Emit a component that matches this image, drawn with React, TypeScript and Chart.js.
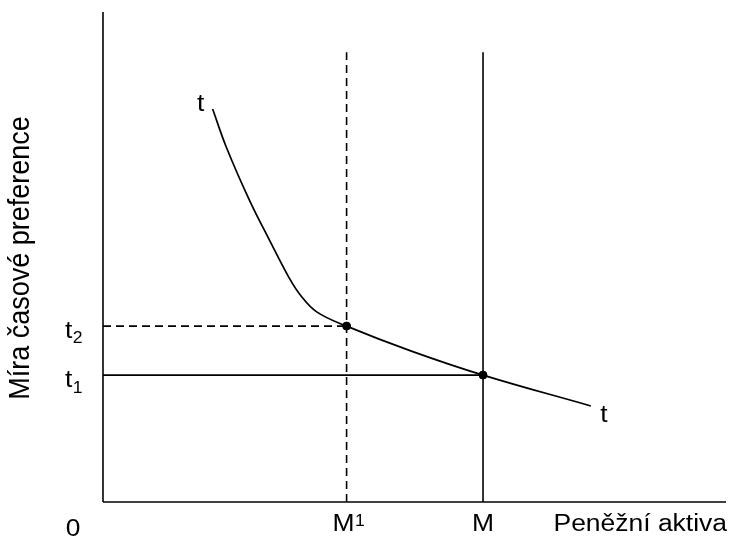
import React, { useEffect, useRef } from "react";
import { Chart, registerables } from "chart.js";

Chart.register(...registerables);

// Curve t–t (money assets vs. rate of time preference)
const curveX = [1.76, 1.98, 2.35, 2.67, 2.99, 3.17, 3.43, 3.91, 4.95, 6.1, 7.83];
const curveY = [8.02, 7.24, 6.16, 5.35, 4.57, 4.22, 3.88, 3.59, 3.08, 2.59, 1.96];

const M1 = 3.91;
const M = 6.1;
const t2 = 3.59;
const t1 = 2.59;
const verticalTop = 9.18;
const axisMax = 10;

const xLabels = ["0", "M", "M", "Peněžní aktiva"];
const yLabels = ["t", "t"];
const curveLabel = "t";
const yTitle = "Míra časové preference";

const FONT = "'Liberation Sans', Arial, Helvetica, sans-serif";

function stretchText(
  ctx: CanvasRenderingContext2D,
  text: string,
  x: number,
  y: number,
  size: number,
  align: CanvasTextAlign,
  sx: number
) {
  ctx.save();
  ctx.translate(x, y);
  ctx.scale(sx, 1);
  ctx.font = `${size}px ${FONT}`;
  ctx.textAlign = align;
  ctx.textBaseline = "alphabetic";
  ctx.fillStyle = "#000";
  ctx.fillText(text, 0, 0);
  ctx.restore();
}

function measure(ctx: CanvasRenderingContext2D, text: string, size: number, sx: number) {
  ctx.save();
  ctx.font = `${size}px ${FONT}`;
  const w = ctx.measureText(text).width * sx;
  ctx.restore();
  return w;
}

const labelsPlugin = {
  id: "labelsPlugin",
  afterDraw(chart: any) {
    const ctx: CanvasRenderingContext2D = chart.ctx;
    const xs = chart.scales.x;
    const ys = chart.scales.y;
    const x0 = xs.getPixelForValue(0);
    const y0 = ys.getPixelForValue(0);
    const sx = 1.15;
    const fs = 23;
    const base = y0 + 29;

    // 0
    stretchText(ctx, xLabels[0], x0 - 30, base + 5, 24, "center", 1.1);
    // M1
    const pm1 = xs.getPixelForValue(M1) - 3;
    const wM = measure(ctx, "M", fs, sx);
    stretchText(ctx, xLabels[1], pm1, base, fs, "center", sx);
    stretchText(ctx, "1", pm1 + wM / 2 + 0.5, base - 5, 16, "left", 1.1);
    // M
    stretchText(ctx, xLabels[2], xs.getPixelForValue(M), base, fs, "center", sx);
    // Axis name
    stretchText(ctx, xLabels[3], xs.right + 1, base, fs, "right", sx);

    // t2, t1
    const wt = measure(ctx, "t", fs, sx);
    const pt2 = ys.getPixelForValue(t2);
    stretchText(ctx, yLabels[0], x0 - 38, pt2 + 12, fs, "left", sx);
    stretchText(ctx, "2", x0 - 38 + wt + 0.5, pt2 + 17, 16, "left", 1.1);
    const pt1 = ys.getPixelForValue(t1);
    stretchText(ctx, yLabels[1], x0 - 38, pt1 + 12, fs, "left", sx);
    stretchText(ctx, "1", x0 - 38 + wt + 0.5, pt1 + 18, 16, "left", 1.1);

    // curve labels
    const firstX = xs.getPixelForValue(curveX[0]);
    const firstY = ys.getPixelForValue(curveY[0]);
    stretchText(ctx, curveLabel, firstX - 12, firstY + 2, fs, "center", sx);
    const lastX = xs.getPixelForValue(curveX[curveX.length - 1]);
    const lastY = ys.getPixelForValue(curveY[curveY.length - 1]);
    stretchText(ctx, curveLabel, lastX + 13, lastY + 16, fs, "center", sx);

    // Y title (rotated)
    ctx.save();
    ctx.translate(x0 - 82, (ys.top + ys.bottom) / 2 + 1);
    ctx.scale(1.12, 1);
    ctx.rotate(-Math.PI / 2);
    ctx.font = `27px ${FONT}`;
    ctx.textAlign = "center";
    ctx.textBaseline = "middle";
    ctx.fillStyle = "#000";
    ctx.fillText(yTitle, 0, 0);
    ctx.restore();
  },
};

export default function App() {
  const ref = useRef<HTMLCanvasElement | null>(null);

  useEffect(() => {
    if (!ref.current) return;
    const seg = (pts: { x: number; y: number }[], dashed: boolean) => ({
      type: "line" as const,
      data: pts,
      borderColor: "#000",
      borderWidth: 1.6,
      borderDash: dashed ? [8, 5] : [],
      pointRadius: 0,
      fill: false,
      clip: false as any,
      tension: 0,
    });
    const chart = new Chart(ref.current, {
      type: "line",
      data: {
        datasets: [
          seg([{ x: 0, y: 0 }, { x: 0, y: axisMax }], false),
          seg([{ x: 0, y: 0 }, { x: axisMax, y: 0 }], false),
          seg([{ x: M1, y: 0 }, { x: M1, y: verticalTop }], true),
          seg([{ x: M, y: 0 }, { x: M, y: verticalTop }], false),
          seg([{ x: 0, y: t2 }, { x: M1, y: t2 }], true),
          seg([{ x: 0, y: t1 }, { x: M, y: t1 }], false),
          {
            type: "line",
            data: curveX.map((x, i) => ({ x, y: curveY[i] })),
            borderColor: "#000",
            borderWidth: 1.7,
            pointRadius: 0,
            fill: false,
            clip: false as any,
            tension: 0.4,
          },
          {
            type: "scatter",
            data: [
              { x: M1, y: t2 },
              { x: M, y: t1 },
            ],
            backgroundColor: "#000",
            borderColor: "#000",
            pointRadius: 4,
            clip: false as any,
          } as any,
        ],
      },
      options: {
        animation: false,
        responsive: false,
        layout: { padding: { left: 103, top: 12, right: 2, bottom: 37 } },
        plugins: { legend: { display: false }, tooltip: { enabled: false } },
        events: [],
        scales: {
          x: { type: "linear", min: 0, max: axisMax, display: false },
          y: { type: "linear", min: 0, max: axisMax, display: false },
        },
      },
      plugins: [labelsPlugin],
    });
    return () => chart.destroy();
  }, []);

  return (
    <div style={{ position: "fixed", left: 0, top: 0, width: 731, height: 539, background: "#fff" }}>
      <canvas ref={ref} width={731} height={539} />
    </div>
  );
}
